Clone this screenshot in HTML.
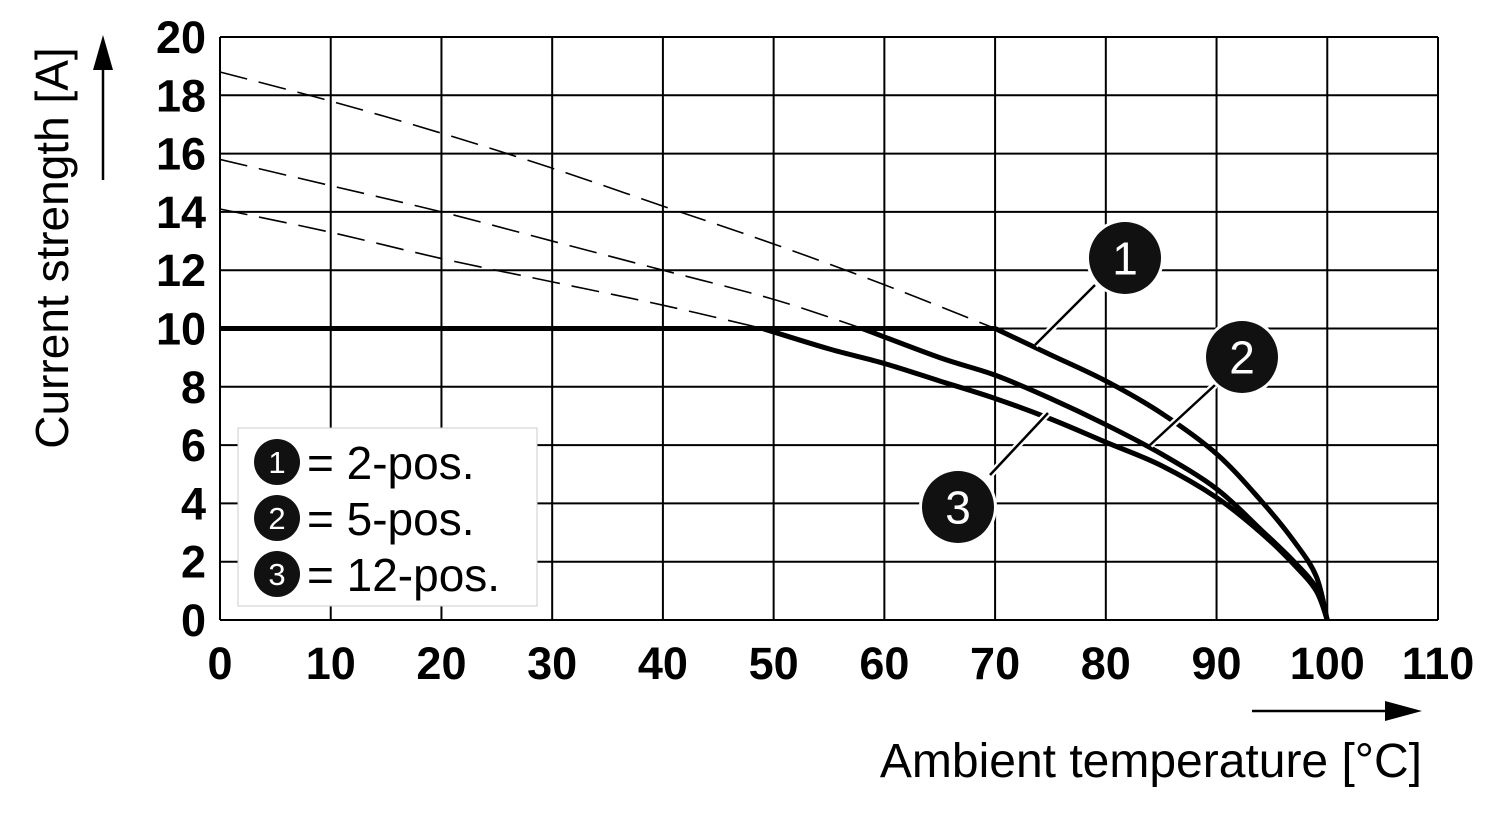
<!DOCTYPE html>
<html><head><meta charset="utf-8"><style>
html,body{margin:0;padding:0;background:#fff;}
svg{display:block;font-family:"Liberation Sans",Arial,sans-serif;}
</style></head><body>
<svg id="chart" width="1500" height="820" viewBox="0 0 1500 820"></svg>
<script>
const xTicks=[0,10,20,30,40,50,60,70,80,90,100,110];
const yTicks=[0,2,4,6,8,10,12,14,16,18,20];
const flatX=[0,70];
const flatY=[10,10];
const c1DashX=[0,10,20,30,40,50,60,70];
const c1DashY=[18.8,17.8,16.7,15.5,14.2,12.9,11.5,10];
const c1X=[70,75,80,85,90,94,97,99,100];
const c1Y=[10,9.1,8.2,7.1,5.7,4.1,2.7,1.5,0];
const c2DashX=[0,10,20,30,40,50,58];
const c2DashY=[15.8,14.9,14.0,13.0,12.0,11.0,10];
const c2X=[58,65,70,75,80,85,90,94,97,99,100];
const c2Y=[10,9.0,8.4,7.6,6.7,5.7,4.5,3.1,2.0,1.1,0];
const c3DashX=[0,10,20,30,40,49];
const c3DashY=[14.1,13.3,12.4,11.6,10.8,10];
const c3X=[49,55,60,65,70,75,80,85,90,94,97,99,100];
const c3Y=[10,9.3,8.8,8.2,7.6,6.9,6.1,5.3,4.2,3.0,1.9,1.0,0];
const legendLabels=["= 2-pos.","= 5-pos.","= 12-pos."];

const X0=220,X1=1438,Y0=620,Y1=37;
const sx=v=>X0+(v-0)/(110)*(X1-X0);
const sy=v=>Y0-(v/20)*(Y0-Y1);
const svg=document.getElementById('chart');
const NS='http://www.w3.org/2000/svg';
function mk(t,a,p){const e=document.createElementNS(NS,t);for(const k in a)e.setAttribute(k,a[k]);(p||svg).appendChild(e);return e;}

const grid=mk('g',{});


xTicks.forEach(v=>{mk('line',{x1:sx(v),x2:sx(v),y1:Y1,y2:Y0,stroke:'#000','stroke-width':2},grid);});
yTicks.forEach(v=>{mk('line',{x1:X0,x2:X1,y1:sy(v),y2:sy(v),stroke:'#000','stroke-width':2},grid);});

xTicks.forEach(v=>{const t=mk('text',{x:sx(v),y:679,'text-anchor':'middle','font-size':45,'font-weight':'bold'});t.textContent=v;

});
yTicks.forEach(v=>{const t=mk('text',{x:206,y:sy(v)+16,'text-anchor':'end','font-size':45,'font-weight':'bold'});t.textContent=v;

});

function path(xs,ys,w,dash,name,smooth){
  const P=xs.map((x,i)=>[sx(x),sy(ys[i])]);
  let d='M'+P[0][0]+','+P[0][1];
  for(let i=0;i<P.length-1;i++){
    if(!smooth){d+=' L'+P[i+1][0]+','+P[i+1][1];continue;}
    const p0=P[Math.max(0,i-1)],p1=P[i],p2=P[i+1],p3=P[Math.min(P.length-1,i+2)];
    const c1=[p1[0]+(p2[0]-p0[0])/6,p1[1]+(p2[1]-p0[1])/6];
    const c2=[p2[0]-(p3[0]-p1[0])/6,p2[1]-(p3[1]-p1[1])/6];
    d+=' C'+c1[0]+','+c1[1]+' '+c2[0]+','+c2[1]+' '+p2[0]+','+p2[1];
  }
  const a={d:d,fill:'none',stroke:'#000','stroke-width':w,'stroke-linejoin':'round'};
  if(dash)a['stroke-dasharray']=dash;
  const p=mk('path',a);
  
  
}
path(c1DashX,c1DashY,1.6,'28,12','curve-1-extension',true);
path(c2DashX,c2DashY,1.6,'28,12','curve-2-extension',true);
path(c3DashX,c3DashY,1.6,'28,12','curve-3-extension',true);
path(flatX,flatY,5,null,'max-current-line',false);
path(c1X,c1Y,5,null,'curve-1-2pos',true);
path(c2X,c2Y,5,null,'curve-2-5pos',true);
path(c3X,c3Y,5,null,'curve-3-12pos',true);

function bubble(cx,cy,r,n,fs,name){
  const g=mk('g',{});
  
  
  mk('circle',{cx:cx,cy:cy,r:r+3,fill:'#fff'},g);
  mk('circle',{cx:cx,cy:cy,r:r,fill:'#111'},g);
  const t=mk('text',{x:cx,y:cy+fs*0.36,'text-anchor':'middle','font-size':fs,fill:'#fff'},g);t.textContent=n;
}
[[1035,345,1095,285],[1150,445,1215,385],[990,475,1048,413]].forEach(l=>{
  mk('line',{x1:l[0],y1:l[1],x2:l[2],y2:l[3],stroke:'#fff','stroke-width':7});
  const e=mk('line',{x1:l[0],y1:l[1],x2:l[2],y2:l[3],stroke:'#000','stroke-width':2.5});
  
  
});
bubble(1125,258,36,'1',46,'callout-1');
bubble(1242,357,36,'2',46,'callout-2');
bubble(958,507,36,'3',46,'callout-3');

const lg=mk('g',{});


mk('rect',{x:238,y:428,width:299,height:178,fill:'#fff',stroke:'#ccc','stroke-width':1},lg);
legendLabels.forEach((s,i)=>{
  const cy=462+i*56;
  mk('circle',{cx:277,cy:cy,r:23,fill:'#111'},lg);
  const n=mk('text',{x:277,y:cy+11,'text-anchor':'middle','font-size':31,fill:'#fff'},lg);n.textContent=i+1;
  const t=mk('text',{x:307,y:cy+17,'font-size':46},lg);t.textContent=s;
  
  
});

const yl=mk('text',{x:0,y:0,'font-size':46,'text-anchor':'middle',transform:'translate(68,248) rotate(-90)'});
yl.textContent='Current strength [A]';


mk('line',{x1:103,y1:180,x2:103,y2:60,stroke:'#000','stroke-width':2.5});
mk('polygon',{points:'103,35 93,70 113,70',fill:'#000'});
const xl=mk('text',{x:1422,y:777,'font-size':48,'text-anchor':'end'});
xl.textContent='Ambient temperature [°C]';


mk('line',{x1:1252,y1:711,x2:1395,y2:711,stroke:'#000','stroke-width':2.5});
mk('polygon',{points:'1422,711 1385,701 1385,721',fill:'#000'});
</script>
</body></html>
